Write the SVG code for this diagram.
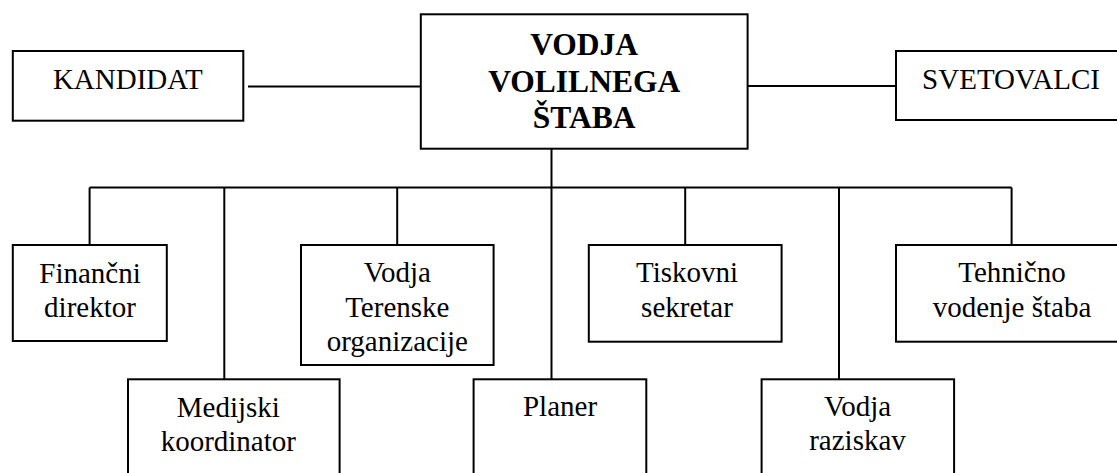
<svg xmlns="http://www.w3.org/2000/svg" width="1117" height="473" viewBox="0 0 1117 473">
  <style>
    .box { fill: #ffffff; stroke: #000000; stroke-width: 2; }
    .wire { fill: none; stroke: #000000; stroke-width: 2; }
    .lbl { font-size: 29px; }
    .head { font-size: 31.5px; font-weight: bold; }
  </style>
  <rect width="1117" height="473" fill="#ffffff"/>

  <!-- connectors -->
  <g id="connectors">
    <line class="wire" x1="248" y1="86.5" x2="421" y2="86.5"/>
    <line class="wire" x1="748" y1="86" x2="901" y2="86"/>
    <line class="wire" x1="551.5" y1="149" x2="551.5" y2="187.5"/>
    <line class="wire" x1="89.6" y1="187.5" x2="1011.6" y2="187.5"/>
    <line class="wire" x1="89.6" y1="187.5" x2="89.6" y2="245"/>
    <line class="wire" x1="224.3" y1="187.5" x2="224.3" y2="379.3"/>
    <line class="wire" x1="397.2" y1="187.5" x2="397.2" y2="245"/>
    <line class="wire" x1="551.5" y1="187.5" x2="551.5" y2="379.3"/>
    <line class="wire" x1="685.2" y1="187.5" x2="685.2" y2="245"/>
    <line class="wire" x1="839" y1="187.5" x2="839" y2="379.3"/>
    <line class="wire" x1="1011.6" y1="187.5" x2="1011.6" y2="245"/>
  </g>

  <g font-family="Liberation Serif, Times New Roman, DejaVu Serif, serif" text-anchor="middle" fill="#000000">
    <!-- top row -->
    <g id="kandidat">
      <rect class="box" x="12.8" y="51" width="230.5" height="69.7"/>
      <text class="lbl" x="127.8" y="89.3">KANDIDAT</text>
    </g>
    <g id="vodja-stab">
      <rect class="box" x="420.8" y="14.3" width="326.8" height="134.4"/>
      <text class="head" x="584.2" y="55">VODJA</text>
      <text class="head" x="584.2" y="91.7">VOLILNEGA</text>
      <text class="head" x="584.2" y="128.3">ŠTABA</text>
    </g>
    <g id="svetovalci">
      <rect class="box" x="896" y="51" width="240" height="69"/>
      <text class="lbl" x="1011" y="89.3">SVETOVALCI</text>
    </g>

    <!-- upper branch row -->
    <g id="financni">
      <rect class="box" x="12.8" y="245" width="154" height="96"/>
      <text class="lbl" x="90" y="283.3">Finančni</text>
      <text class="lbl" x="90" y="317.3">direktor</text>
    </g>
    <g id="terenska">
      <rect class="box" x="301" y="245" width="192.6" height="120"/>
      <text class="lbl" x="397.3" y="281.7">Vodja</text>
      <text class="lbl" x="397.3" y="316.7">Terenske</text>
      <text class="lbl" x="397.3" y="350.5">organizacije</text>
    </g>
    <g id="tiskovni">
      <rect class="box" x="588.8" y="245" width="192.8" height="96.7"/>
      <text class="lbl" x="687" y="281.7">Tiskovni</text>
      <text class="lbl" x="687" y="316.7">sekretar</text>
    </g>
    <g id="tehnicno">
      <rect class="box" x="896" y="245" width="232" height="96.7"/>
      <text class="lbl" x="1012" y="281.7">Tehnično</text>
      <text class="lbl" x="1012" y="316.7">vodenje štaba</text>
    </g>

    <!-- lower branch row -->
    <g id="medijski">
      <rect class="box" x="128" y="379.3" width="211.6" height="110"/>
      <text class="lbl" x="228.3" y="416.7">Medijski</text>
      <text class="lbl" x="228.3" y="450.7">koordinator</text>
    </g>
    <g id="planer">
      <rect class="box" x="473.6" y="379.3" width="172.7" height="110"/>
      <text class="lbl" x="560" y="416">Planer</text>
    </g>
    <g id="raziskave">
      <rect class="box" x="761.6" y="379.3" width="192.5" height="110"/>
      <text class="lbl" x="857.5" y="416">Vodja</text>
      <text class="lbl" x="857.5" y="450">raziskav</text>
    </g>
  </g>
</svg>
